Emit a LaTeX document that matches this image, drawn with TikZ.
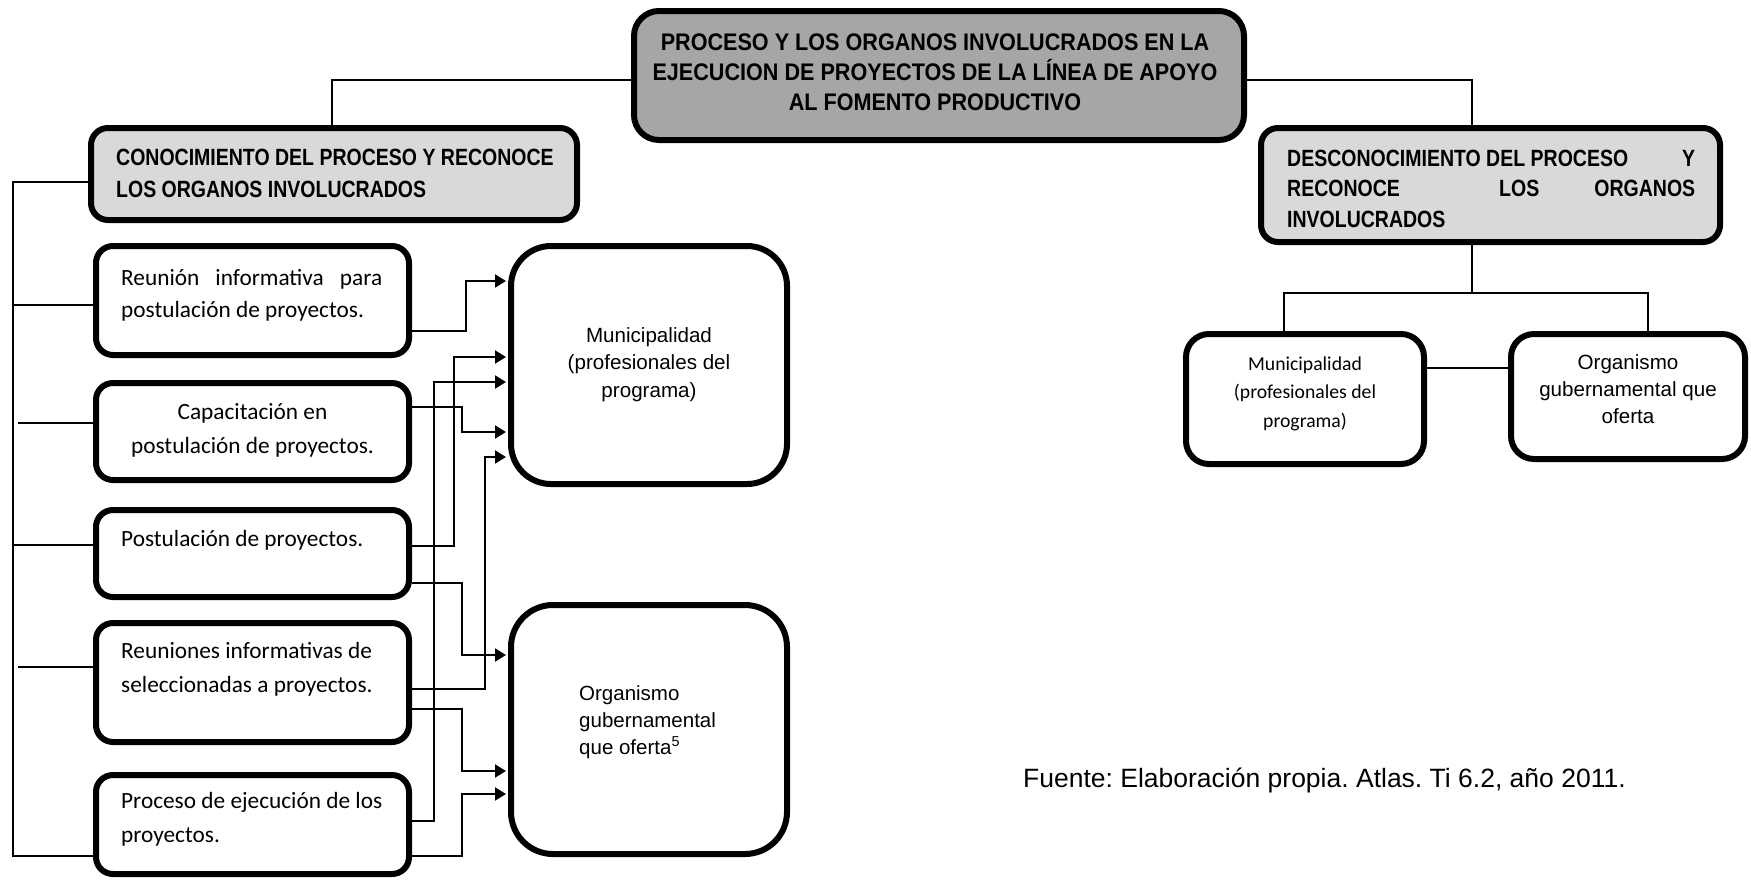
\documentclass[tikz,border=0pt]{standalone}
\usepackage{fontspec}
\setmainfont{Liberation Sans}
\newfontfamily\calfont{Carlito}
\newfontfamily\titlefont{Liberation Sans}[FakeStretch=0.9]
\newfontfamily\headfont{Liberation Sans}[FakeStretch=0.83]
\usetikzlibrary{arrows.meta,calc}
\definecolor{titlegray}{HTML}{A6A6A6}
\definecolor{headgray}{HTML}{D9D9D9}
\frenchspacing
\begin{document}
\begin{tikzpicture}[x=1pt,y=-1pt,
  box/.style={draw=black, line width=6pt, rounded corners=#1, inner sep=0pt, fill=white},
  box/.default=17pt,
  conn/.style={draw=black, line width=2pt},
  arr/.style={conn, -{Triangle[length=11pt,width=13pt]}, shorten >=2pt},
  txt/.style={inner sep=0pt, anchor=base west},
  ctxt/.style={inner sep=0pt, anchor=base}]
\useasboundingbox (0,0) rectangle (1751,879);

% boxes
\node[box=25pt, fill=titlegray, minimum width=610pt, minimum height=129pt] (title) at (939,75.5) {};
\node[box, fill=headgray, minimum width=486pt, minimum height=92pt] (conoc) at (334,174) {};
\node[box, fill=headgray, minimum width=459pt, minimum height=114pt] (desc) at (1490.5,185) {};

\node[box, minimum width=313pt, minimum height=109pt] (b1) at (252.5,300.5) {};
\node[box, minimum width=313pt, minimum height=97pt] (b2) at (252.5,431.5) {};
\node[box, minimum width=313pt, minimum height=87pt] (b3) at (252.5,553.5) {};
\node[box, minimum width=313pt, minimum height=119pt] (b4) at (252.5,682.5) {};
\node[box, minimum width=313pt, minimum height=99pt] (b5) at (252.5,824.5) {};

\node[box=40pt, minimum width=276pt, minimum height=238pt] (muniL) at (649,365) {};
\node[box=42pt, minimum width=276pt, minimum height=249pt] (orgL) at (649,729.5) {};

\node[box=23pt, minimum width=238pt, minimum height=130pt] (muniR) at (1305,399) {};
\node[box=23pt, minimum width=234pt, minimum height=125pt] (orgR) at (1628,396.5) {};

% texts
\node[ctxt] (titletext) at (935,50) {\parbox[t]{640pt}{\centering\titlefont\bfseries\fontsize{24}{30}\selectfont PROCESO Y LOS ORGANOS INVOLUCRADOS EN LA\\EJECUCION DE PROYECTOS DE LA LÍNEA DE APOYO\\AL FOMENTO PRODUCTIVO}};
\node[txt] (conoctext) at (116,165) {\parbox[t]{470pt}{\headfont\bfseries\fontsize{23.5}{32}\selectfont CONOCIMIENTO DEL PROCESO Y RECONOCE\\LOS ORGANOS INVOLUCRADOS}};
\node[txt] (desctext) at (1287,166) {\parbox[t]{408pt}{\headfont\bfseries\fontsize{23.5}{30.5}\selectfont DESCONOCIMIENTO DEL PROCESO\hfill Y\\RECONOCE\hspace{\stretch{1.8}}LOS\hspace{\stretch{1}}ORGANOS\\INVOLUCRADOS}};

\node[txt] (t1) at (121,285) {\parbox[t]{261pt}{\calfont\fontsize{23.3}{32}\selectfont Reunión\hfill informativa\hfill para\\postulación de proyectos.}};
\node[ctxt] (t2) at (252.5,419) {\parbox[t]{300pt}{\centering\calfont\fontsize{23.3}{34}\selectfont Capacitación en\\postulación de proyectos.}};
\node[txt] (t3) at (121,546) {\calfont\fontsize{23.3}{32}\selectfont Postulación de proyectos.};
\node[txt] (t4) at (121,658) {\parbox[t]{300pt}{\calfont\fontsize{23.3}{34}\selectfont Reuniones informativas de\\seleccionadas a proyectos.}};
\node[txt] (t5) at (121,808) {\parbox[t]{300pt}{\calfont\fontsize{23.3}{34}\selectfont Proceso de ejecución de los\\proyectos.}};

\node[ctxt] (mltext) at (649,342) {\parbox[t]{260pt}{\centering\fontsize{20.6}{27.5}\selectfont Municipalidad\\(profesionales del\\programa)}};
\node[txt] (oltext) at (579,700) {\parbox[t]{200pt}{\fontsize{20.5}{27}\selectfont Organismo\\gubernamental\\que oferta\textsuperscript{5}}};
\node[ctxt] (mrtext) at (1305,370) {\parbox[t]{230pt}{\centering\calfont\fontsize{19.7}{28.5}\selectfont Municipalidad\\(profesionales del\\programa)}};
\node[ctxt] (ortext) at (1628,369) {\parbox[t]{230pt}{\centering\fontsize{20.6}{27}\selectfont Organismo\\gubernamental que\\oferta}};
\node[txt] (fuente) at (1023,787) {\fontsize{26.5}{32}\selectfont Fuente: Elaboración propia. Atlas. Ti 6.2, año 2011.};

% top connectors
\coordinate (tl) at (332,80);
\coordinate (tr) at (1472,80);
\draw[conn] (title.west |- tl) -- (tl) -- (conoc.north -| tl);
\draw[conn] (title.east |- tr) -- (tr) -- (desc.north -| tr);

% right tree
\coordinate (dj) at (1472,293);
\coordinate (djl) at (1284,293);
\coordinate (djr) at (1648,293);
\draw[conn] (desc.south -| dj) -- (dj);
\draw[conn] (muniR.north -| djl) -- (djl) -- (djr) -- (orgR.north -| djr);
\coordinate (mo) at (1440,368);
\draw[conn] (muniR.east |- mo) -- (orgR.west |- mo);

% left bracket
\coordinate (lbt) at (13,182);
\coordinate (lbb) at (13,856);
\draw[conn] (conoc.west |- lbt) -- (lbt) -- (lbb) -- (b5.west |- lbb);
\coordinate (lr1) at (13,305);
\coordinate (lr2) at (18,423);
\coordinate (lr3) at (13,545);
\coordinate (lr4) at (18,667);
\draw[conn] (lr1) -- (lr1 -| b1.west);
\draw[conn] (lr2) -- (lr2 -| b2.west);
\draw[conn] (lr3) -- (lr3 -| b3.west);
\draw[conn] (lr4) -- (lr4 -| b4.west);

% arrows
\draw[arr] ([yshift=-30.5pt]b1.east) -- ++(54,0) |- ([yshift=84pt]muniL.west);
\draw[arr] ([yshift=24.5pt]b2.east) -- ++(50,0) |- ([yshift=-67pt]muniL.west);
\draw[arr] ([yshift=7.5pt]b3.east) -- ++(42,0) |- ([yshift=8pt]muniL.west);
\draw[arr] ([yshift=-29.5pt]b3.east) -- ++(50,0) |- ([yshift=74.5pt]orgL.west);
\draw[arr] ([yshift=-6.5pt]b4.east) -- ++(73,0) |- ([yshift=-92pt]muniL.west);
\draw[arr] ([yshift=-26.5pt]b4.east) -- ++(50,0) |- ([yshift=-41.5pt]orgL.west);
\draw[arr] ([yshift=3.5pt]b5.east) -- ++(22,0) |- ([yshift=-17pt]muniL.west);
\draw[arr] ([yshift=-31.5pt]b5.east) -- ++(50,0) |- ([yshift=-64.5pt]orgL.west);
\end{tikzpicture}
\end{document}
